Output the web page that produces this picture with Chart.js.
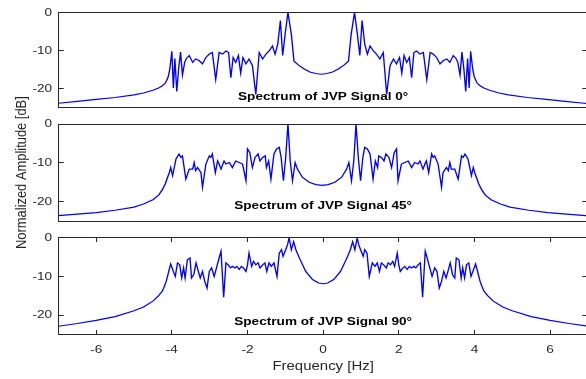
<!DOCTYPE html>
<html>
<head>
<meta charset="utf-8">
<script src="https://cdn.jsdelivr.net/npm/chart.js@4.4.0/dist/chart.umd.min.js"></script>
<style>
  html, body { margin: 0; padding: 0; background: #fff; overflow: hidden; width: 586px; height: 379px; }
  #figura { position: absolute; left: 0; top: 0; width: 586px; height: 379px; }
  #figura canvas { position: absolute; left: 0; top: 0; }
</style>
</head>
<body>
<div id="figura">
  <canvas id="graf0" width="570" height="420"></canvas>
  <canvas id="graf45" width="570" height="420"></canvas>
  <canvas id="graf90" width="570" height="420"></canvas>
</div>
<script>
// Ticks dos eixos
const xTicks = [-6, -4, -2, 0, 2, 4, 6];
const yTicks = [-20, -10, 0];

// Espectro 0 graus
const freq0 = [-7, -6.5, -6, -5.5, -5, -4.75, -4.5, -4.35, -4.25, -4.17, -4.1, -4.06, -4.03, -4, -3.96, -3.92, -3.87, -3.82, -3.77, -3.72,
    -3.66, -3.61, -3.54, -3.45, -3.37, -3.28, -3.19, -3.1, -3.01, -2.93, -2.84, -2.75, -2.66, -2.57, -2.5, -2.44, -2.38, -2.31, -2.24, -2.18,
    -2.12, -2.04, -1.96, -1.87, -1.78, -1.69, -1.6, -1.51, -1.43, -1.34, -1.27, -1.2, -1.13, -1.07, -1, -0.93, -0.84, -0.77, -0.65, -0.5,
    -0.35, -0.2, -0.05,
    0.1, 0.25, 0.4, 0.55, 0.67, 0.74, 0.83, 0.9, 0.97, 1.03, 1.1, 1.17, 1.24, 1.33, 1.41, 1.5, 1.59, 1.68, 1.77, 1.86,
    1.94, 2.02, 2.08, 2.14, 2.21, 2.28, 2.34, 2.4, 2.47, 2.56, 2.65, 2.74, 2.83, 2.91, 3, 3.09, 3.18, 3.27, 3.35, 3.44,
    3.51, 3.56, 3.62, 3.67, 3.72, 3.77, 3.82, 3.86, 3.9, 3.93, 3.96, 4, 4.07, 4.15, 4.25, 4.4, 4.65, 4.9, 5.4, 5.9,
    6.4, 6.9, 7];
const amp0 = [-23.8, -23.3, -22.8, -22.3, -21.6, -21.1, -20.4, -19.8, -19.2, -18.5, -17.0, -15.2, -12.8, -10.2, -19.8, -12.1, -20.7, -14.7, -10.4, -16.4,
    -13.0, -12.0, -11.3, -13.1, -12.2, -12.6, -13.5, -11.8, -10.9, -10.5, -17.6, -10.5, -10.9, -10.1, -10.5, -17.1, -11.8, -13.1, -11.3, -15.9,
    -11.8, -13.5, -12.2, -13.9, -21.5, -10.5, -12.2, -10.9, -10.1, -8.8, -10.9, -8.3, -2.1, -11.3, -5.3, 0, -5.8, -12.8, -13.8, -14.8,
    -15.6, -16.0, -16.2,
    -16.0, -15.6, -14.8, -13.8, -12.8, -5.8, 0, -5.3, -11.3, -2.1, -8.3, -10.9, -8.8, -10.1, -10.9, -12.2, -10.5, -21.5, -13.9, -12.2,
    -13.5, -11.8, -15.9, -11.3, -13.1, -11.8, -17.1, -10.5, -10.1, -10.9, -10.5, -17.6, -10.5, -10.9, -11.8, -13.5, -12.6, -12.2, -13.1, -11.3,
    -12.0, -13.0, -16.4, -10.4, -14.7, -20.7, -12.1, -19.8, -10.2, -12.8, -15.2, -17.0, -18.5, -19.2, -19.8, -20.4, -21.1, -21.6, -22.3, -22.8,
    -23.3, -23.8, -23.9];

// Espectro 45 graus
const freq45 = [-7, -6.5, -6, -5.5, -5, -4.75, -4.5, -4.35, -4.25, -4.17, -4.12, -4.07, -4.03, -3.98, -3.89, -3.81, -3.76, -3.72, -3.63, -3.54,
    -3.45, -3.41, -3.37, -3.32, -3.23, -3.19, -3.1, -3.01, -2.97, -2.93, -2.85, -2.79, -2.75, -2.7, -2.62, -2.57, -2.48, -2.4, -2.31, -2.22,
    -2.13, -2.04, -2, -1.94, -1.87, -1.8, -1.72, -1.67, -1.6, -1.53, -1.5, -1.44, -1.38, -1.3, -1.23, -1.16, -1.11, -1.05, -0.99, -0.93,
    -0.87, -0.81, -0.74, -0.68, -0.55, -0.37, -0.19, -0.03,
    0.13, 0.31, 0.49, 0.62, 0.68, 0.75, 0.81, 0.87, 0.93, 0.99, 1.05, 1.1, 1.17, 1.24, 1.32, 1.38, 1.44, 1.47, 1.54, 1.61,
    1.66, 1.74, 1.81, 1.88, 1.94, 1.98, 2.07, 2.16, 2.25, 2.34, 2.42, 2.51, 2.56, 2.64, 2.69, 2.73, 2.79, 2.87, 2.91, 2.95,
    3.04, 3.13, 3.17, 3.26, 3.31, 3.35, 3.39, 3.48, 3.57, 3.66, 3.7, 3.75, 3.83, 3.92, 3.97, 4.01, 4.06, 4.11, 4.19, 4.29,
    4.44, 4.69, 4.94, 5.44, 5.94, 6.44, 6.94, 7];
const amp45 = [-23.6, -23.2, -22.8, -22.2, -21.4, -20.6, -19.5, -18.3, -16.9, -15.3, -13.9, -12.6, -11.2, -13.3, -9.0, -7.7, -8.6, -8.2, -14.2, -11.6,
    -11.6, -9.9, -12.0, -11.2, -12.5, -16.3, -10.3, -8.2, -8.6, -7.7, -12.5, -9.5, -10.3, -11.6, -9.5, -10.3, -9.9, -11.2, -9.5, -9.9,
    -10.3, -14.6, -6.4, -7.3, -11.2, -8.6, -7.7, -9.5, -8.6, -8.2, -11.2, -9.5, -14.2, -7.7, -6.4, -6.0, -8.6, -14.6, -8.6, 0,
    -9.5, -14.6, -9.9, -11.6, -13.7, -15.0, -15.6, -15.8,
    -15.6, -15.0, -13.7, -11.6, -9.9, -14.6, -9.5, 0, -8.6, -14.6, -8.6, -6.0, -6.4, -7.7, -14.2, -9.5, -11.2, -8.2, -8.6, -9.5,
    -7.7, -8.6, -11.2, -7.3, -6.4, -14.6, -10.3, -9.9, -9.5, -11.2, -9.9, -10.3, -9.5, -11.6, -10.3, -9.5, -12.5, -7.7, -8.6, -8.2,
    -10.3, -16.3, -12.5, -11.2, -12.0, -9.9, -11.6, -11.6, -14.2, -8.2, -8.6, -7.7, -9.0, -13.3, -11.2, -12.6, -13.9, -15.3, -16.9, -18.3,
    -19.5, -20.6, -21.4, -22.2, -22.8, -23.2, -23.6, -23.65];

// Espectro 90 graus
const freq90 = [-7, -6.5, -6, -5.5, -5, -4.75, -4.5, -4.35, -4.25, -4.2, -4.15, -4.11, -4.07, -4.03, -3.96, -3.91, -3.85, -3.79, -3.74, -3.69,
    -3.65, -3.59, -3.52, -3.48, -3.42, -3.36, -3.3, -3.25, -3.19, -3.13, -3.07, -3.01, -2.95, -2.88, -2.82, -2.75, -2.7, -2.63, -2.57, -2.51,
    -2.45, -2.4, -2.33, -2.28, -2.22, -2.16, -2.11, -2.04, -2, -1.96, -1.89, -1.84, -1.78, -1.72, -1.67, -1.6, -1.54, -1.49, -1.43, -1.37,
    -1.3, -1.22, -1.16, -1.1, -1.06, -0.99, -0.94, -0.9, -0.84, -0.78, -0.72, -0.63, -0.46, -0.28, -0.12, 0,
    0.12, 0.28, 0.46, 0.63, 0.72, 0.78, 0.84, 0.9, 0.94, 0.99, 1.06, 1.1, 1.16, 1.22, 1.3, 1.37, 1.43, 1.49, 1.54, 1.6,
    1.67, 1.72, 1.78, 1.84, 1.89, 1.96, 2, 2.04, 2.11, 2.16, 2.22, 2.28, 2.33, 2.4, 2.45, 2.51, 2.57, 2.63, 2.7, 2.75,
    2.82, 2.88, 2.95, 3.01, 3.07, 3.13, 3.19, 3.25, 3.3, 3.36, 3.42, 3.48, 3.52, 3.59, 3.65, 3.69, 3.74, 3.79, 3.85, 3.91,
    3.96, 4.03, 4.07, 4.11, 4.15, 4.2, 4.25, 4.35, 4.5, 4.75, 5, 5.5, 6, 6.5, 7];
const amp90 = [-22.9, -22.2, -21.4, -20.4, -18.9, -17.9, -16.4, -15.0, -13.8, -12.6, -11.3, -9.8, -8.2, -6.8, -8.7, -10.0, -6.5, -7.0, -10.4, -7.8,
    -10.4, -5.7, -5.2, -10.4, -9.5, -6.5, -8.7, -10.4, -8.7, -11.3, -13.0, -8.7, -7.8, -10.0, -7.8, -5.2, -3.5, -15.4, -6.5, -7.0,
    -7.8, -7.4, -7.8, -7.4, -8.2, -7.4, -7.8, -8.7, -7.0, -4.0, -7.4, -6.1, -7.0, -6.5, -7.8, -7.0, -6.5, -8.7, -6.5, -7.4,
    -6.5, -10.0, -4.0, -3.1, -4.8, -3.1, -1.8, 0, -3.1, -1.0, -3.1, -5.2, -8.7, -10.8, -11.7, -11.9,
    -11.7, -10.8, -8.7, -5.2, -3.1, -1.0, -3.1, 0, -1.8, -3.1, -4.8, -3.1, -4.0, -10.0, -6.5, -7.4, -6.5, -8.7, -6.5, -7.0,
    -7.8, -6.5, -7.0, -6.1, -7.4, -4.0, -7.0, -8.7, -7.8, -7.4, -8.2, -7.4, -7.8, -7.4, -7.8, -7.0, -6.5, -15.4, -3.5, -5.2,
    -7.8, -10.0, -7.8, -8.7, -13.0, -11.3, -8.7, -10.4, -8.7, -6.5, -9.5, -10.4, -5.2, -5.7, -10.4, -7.8, -10.4, -7.0, -6.5, -10.0,
    -8.7, -6.8, -8.2, -9.8, -11.3, -12.6, -13.8, -15.0, -16.4, -17.9, -18.9, -20.4, -21.4, -22.2, -22.9];

const fonte = "'Liberation Sans', Arial, Helvetica, sans-serif";
const corEixo = '#262626';

// A figura original (560x420) foi esticada para 586x379: desenha tudo com essa escala
const ESC_X = 586 / 560;
const ESC_Y = 379 / 420;
const pixX = v => (Math.floor(v * ESC_X) + 0.5) / ESC_X;
const pixY = v => (Math.floor(v * ESC_Y) + 0.5) / ESC_Y;

const esticador = {
    id: 'esticador',
    beforeDraw(chart) {
        chart.ctx.setTransform(ESC_X, 0, 0, ESC_Y, 0, 0);
    }
};

// Caixa, ticks para dentro e textos de cada subplot
const moldura = {
    id: 'moldura',
    afterDraw(chart, args, opts) {
        const ctx = chart.ctx;
        const area = chart.chartArea;
        const sx = chart.scales.x;
        const sy = chart.scales.y;
        const esq = pixX(area.left);
        const dir = pixX(area.right);
        const cima = pixY(area.top);
        const baixo = pixY(area.bottom);
        ctx.save();
        ctx.strokeStyle = corEixo;
        ctx.lineWidth = 1;
        ctx.beginPath();
        ctx.moveTo(esq, cima); ctx.lineTo(dir, cima); ctx.lineTo(dir, baixo); ctx.lineTo(esq, baixo); ctx.closePath();
        yTicks.forEach(v => {
            const py = pixY(sy.getPixelForValue(v));
            ctx.moveTo(esq, py); ctx.lineTo(esq + 5, py);
            ctx.moveTo(dir, py); ctx.lineTo(dir - 5, py);
        });
        if (opts.ticksX) {
            xTicks.forEach(v => {
                const px = pixX(sx.getPixelForValue(v));
                ctx.moveTo(px, baixo); ctx.lineTo(px, baixo - 5);
                ctx.moveTo(px, cima); ctx.lineTo(px, cima + 5);
            });
        }
        ctx.stroke();

        const meio = (area.left + area.right) / 2;
        ctx.fillStyle = '#000';
        ctx.font = 'bold 13px ' + fonte;
        ctx.textAlign = 'center';
        ctx.textBaseline = 'alphabetic';
        ctx.fillText(opts.titulo, meio, area.bottom - opts.distTitulo);

        ctx.fillStyle = corEixo;
        ctx.font = '14.3px ' + fonte;
        if (opts.rotuloX) {
            ctx.fillText(opts.rotuloX, meio, 410);
        }
        if (opts.rotuloY) {
            ctx.translate(25, (area.top + area.bottom) / 2);
            ctx.rotate(-Math.PI / 2);
            ctx.fillText(opts.rotuloY, 0, 0);
        }
        ctx.restore();
    }
};

function criarGrafico(idCanvas, freqs, amps, cfg) {
    const pontos = freqs.map((f, i) => ({ x: f, y: amps[i] }));
    const chart = new Chart(document.getElementById(idCanvas), {
        type: 'line',
        data: {
            datasets: [{
                data: pontos,
                borderColor: '#0000FF',
                borderWidth: 1.3,
                pointRadius: 0,
                tension: 0,
                fill: false
            }]
        },
        options: {
            responsive: false,
            animation: false,
            devicePixelRatio: 1,
            layout: { padding: { top: cfg.topo, bottom: cfg.baixo, left: 0, right: 8.2 } },
            plugins: {
                legend: { display: false },
                tooltip: { enabled: false },
                moldura: cfg
            },
            scales: {
                x: {
                    type: 'linear',
                    min: -7,
                    max: 7,
                    display: cfg.ticksX,
                    grid: { display: false, drawTicks: false },
                    border: { display: false },
                    afterBuildTicks: s => { s.ticks = xTicks.map(v => ({ value: v })); },
                    afterFit: s => { s.height = cfg.ticksX ? 30 : 0; },
                    ticks: { padding: 9, color: corEixo, font: { family: fonte, size: 13 }, maxRotation: 0 }
                },
                y: {
                    min: -25,
                    max: 0,
                    grid: { display: false, drawTicks: false },
                    border: { display: false },
                    afterBuildTicks: s => { s.ticks = yTicks.map(v => ({ value: v })); },
                    afterFit: s => { s.width = 55.8; },
                    ticks: { padding: 6, color: corEixo, font: { family: fonte, size: 13 } }
                }
            }
        },
        plugins: [esticador, moldura]
    });
    // buffer no tamanho final da janela, layout continua em 570x420
    const c = chart.canvas;
    c.width = 586;
    c.height = 379;
    c.style.width = '586px';
    c.style.height = '379px';
    chart.draw();
    return chart;
}

criarGrafico('graf0', freq0, amp0, { topo: 12, baixo: 300.5, ticksX: false, titulo: 'Spectrum of JVP Signal 0°', distTitulo: 8.3 });
criarGrafico('graf45', freq45, amp45, { topo: 137.5, baixo: 175, ticksX: false, titulo: 'Spectrum of JVP Signal 45°', distTitulo: 13, rotuloY: 'Normalized Amplitude [dB]' });
criarGrafico('graf90', freq90, amp90, { topo: 263.5, baixo: 19.5, ticksX: true, titulo: 'Spectrum of JVP Signal 90°', distTitulo: 10.3, rotuloX: 'Frequency [Hz]' });
</script>
</body>
</html>
